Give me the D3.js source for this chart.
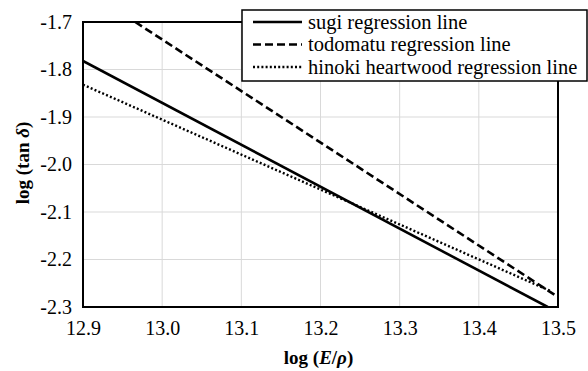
<!DOCTYPE html>
<html>
<head>
<meta charset="utf-8">
<script src="https://cdn.jsdelivr.net/npm/d3@7"></script>
<style>
  body { margin: 0; background: #fff; }
  svg { display: block; }
  svg text { font-family: "Liberation Serif", "Times New Roman", serif; }
</style>
</head>
<body>
<svg id="chart" width="588" height="371"></svg>
<script>
// axis ticks
const xTicks = [12.9, 13.0, 13.1, 13.2, 13.3, 13.4, 13.5];
const yTicks = [-1.7, -1.8, -1.9, -2.0, -2.1, -2.2, -2.3];

// regression lines, read as end points
const seriesNames = ['sugi regression line', 'todomatu regression line', 'hinoki heartwood regression line'];
const sugiX = [12.9, 13.487];
const sugiY = [-1.782, -2.3];
const todomatuX = [12.966, 13.5];
const todomatuY = [-1.7, -2.279];
const hinokiX = [12.9, 13.49];
const hinokiY = [-1.832, -2.266];

const svg = d3.select('#chart');
const plotL = 83, plotR = 558, plotT = 22, plotB = 307;

const x = d3.scaleLinear().domain([12.9, 13.5]).range([plotL, plotR]);
const y = d3.scaleLinear().domain([-2.3, -1.7]).range([plotB, plotT]);

// gridlines
svg.append('g').selectAll('line')
  .data(xTicks.slice(1, -1))
  .enter().append('line')
  .attr('x1', d => x(d)).attr('x2', d => x(d))
  .attr('y1', plotT).attr('y2', plotB)
  .attr('stroke', '#d9d9d9').attr('stroke-width', 1);

svg.append('g').selectAll('line')
  .data(yTicks.slice(1, -1))
  .enter().append('line')
  .attr('x1', plotL).attr('x2', plotR)
  .attr('y1', d => y(d)).attr('y2', d => y(d))
  .attr('stroke', '#d9d9d9').attr('stroke-width', 1);

// axes (labels only)
const xAxis = svg.append('g')
  .attr('transform', `translate(0,${plotB})`)
  .call(d3.axisBottom(x).tickValues(xTicks).tickFormat(d => d.toFixed(1)).tickSize(0).tickPadding(14));
const yAxis = svg.append('g')
  .attr('transform', `translate(${plotL},0)`)
  .call(d3.axisLeft(y).tickValues(yTicks).tickFormat(d => d.toFixed(1)).tickSize(0).tickPadding(11));
[xAxis, yAxis].forEach(a => {
  a.select('.domain').remove();
  a.attr('font-family', 'Liberation Serif').attr('font-size', 20);
  a.selectAll('text')
    .style('font-family', '"Liberation Serif", serif')
    .style('font-size', '20px')
    .attr('fill', '#000');
});

// series
const series = [
  { xs: sugiX, ys: sugiY, dash: null, w: 2.6 },
  { xs: todomatuX, ys: todomatuY, dash: '8,4', w: 2.6 },
  { xs: hinokiX, ys: hinokiY, dash: '2,2.2', w: 2.4 }
];
const line = d3.line().x(d => x(d[0])).y(d => y(d[1]));

svg.append('defs').append('clipPath').attr('id', 'plotclip')
  .append('rect').attr('x', plotL).attr('y', plotT).attr('width', plotR - plotL).attr('height', plotB - plotT);

svg.append('g').attr('clip-path', 'url(#plotclip)')
  .selectAll('path')
  .data(series)
  .enter().append('path')
  .attr('d', s => line(d3.zip(s.xs, s.ys)))
  .attr('fill', 'none')
  .attr('stroke', '#000')
  .attr('stroke-width', s => s.w)
  .attr('stroke-dasharray', s => s.dash);

// plot border
svg.append('rect')
  .attr('x', plotL).attr('y', plotT)
  .attr('width', plotR - plotL).attr('height', plotB - plotT)
  .attr('fill', 'none').attr('stroke', '#000').attr('stroke-width', 2);

// axis titles
svg.append('text')
  .attr('x', (plotL + plotR) / 2 - 2).attr('y', 364)
  .attr('text-anchor', 'middle')
  .style('font-size', '19px').style('font-weight', 'bold')
  .html('log (<tspan font-style="italic">E</tspan>/<tspan font-style="italic">ρ</tspan>)');

svg.append('text')
  .attr('transform', 'translate(29,163) rotate(-90)')
  .attr('text-anchor', 'middle')
  .style('font-size', '19px').style('font-weight', 'bold')
  .html('log (tan <tspan font-style="italic">δ</tspan>)');

// legend
const legend = svg.append('g');
legend.append('rect')
  .attr('x', 242).attr('y', 10).attr('width', 345).attr('height', 71)
  .attr('fill', '#fff').attr('stroke', '#000').attr('stroke-width', 1.5);

const rows = legend.selectAll('g')
  .data(series)
  .enter().append('g')
  .attr('transform', (_, i) => `translate(0,${22 + i * 22.5})`);

rows.append('line')
  .attr('x1', 253).attr('x2', 302)
  .attr('stroke', '#000')
  .attr('stroke-width', s => s.w)
  .attr('stroke-dasharray', s => s.dash);

rows.append('text')
  .attr('x', 308).attr('y', 6.5)
  .style('font-size', '20.5px')
  .text((_, i) => seriesNames[i]);
</script>
</body>
</html>
